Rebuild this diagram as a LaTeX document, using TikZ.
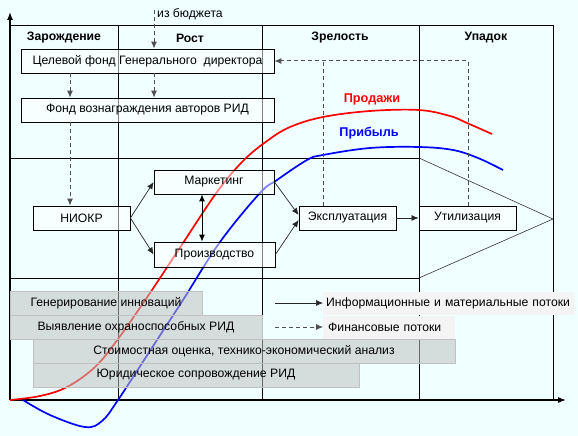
\documentclass[tikz,border=0pt]{standalone}
\usepackage{fontspec}
\setmainfont{Liberation Sans}
\usetikzlibrary{arrows.meta,calc}
\definecolor{bgc}{HTML}{F0FFFF}
\definecolor{barc}{HTML}{C0C0C0}
\definecolor{legc}{HTML}{F4F4F4}
\definecolor{dashc}{HTML}{505050}
\begin{document}
\begin{tikzpicture}[x=1pt,y=-1pt,
  font=\fontsize{12.2}{14}\selectfont,
  frameline/.style={black,line width=0.8pt},
  stagebox/.style={draw=black,line width=0.8pt,fill=white,fill opacity=0.5,text opacity=1,inner sep=0pt,minimum height=24pt},
  barbox/.style={draw=barc,line width=0.8pt,fill=barc,fill opacity=0.55,text opacity=1,inner sep=0pt,minimum height=24pt},
  legbox/.style={fill=legc,inner sep=0pt,minimum height=23pt,anchor=west},
  head/.style={font=\fontsize{12.2}{14}\selectfont\bfseries},
  flow/.style={-{Latex[length=7pt,width=6pt]},line width=0.7pt,black!85},
  money/.style={-{Latex[length=7pt,width=6pt]},line width=1pt,dashc,dash pattern=on 4pt off 3pt},
  curve/.style={line width=1.7pt}
]
\useasboundingbox (0,0) rectangle (578,436);
\fill[bgc] (0,0) rectangle (578,436);
% frame
\draw[frameline] (10,25) -- (553,25) -- (553,400);
\foreach \x in {118,262,419} \draw[frameline] (\x,25) -- (\x,400);
\draw[frameline] (10,158) -- (419,158);
\draw[frameline] (10,278) -- (419,278);
\draw[line width=0.6pt,black!80] (419,158) -- (553,219) -- (419,278);
% axes
\draw[-{Latex[length=8pt,width=6pt]},line width=1.2pt] (10,400) -- (10,12);
\draw[-{Latex[length=8pt,width=6pt]},line width=1.2pt] (10,400) -- (566,400);
% curves
\draw[curve,red] plot[smooth,tension=0.6] coordinates {(10,400) (40,396) (67,387) (95,367) (118,339) (150,293) (183,243) (217,192) (243,161) (267,141) (290,127) (323,117) (370,111) (419,110) (450,116) (467,123) (492,134)};
\draw[curve,blue] plot[smooth,tension=0.6] coordinates {(23,400) (50,415) (85,427) (102,421) (118,400) (157,340) (183,300) (220,242) (260,193) (277,180) (307,160) (323,155) (370,148) (419,147) (453,150) (478,158) (503,170)};
\node[font=\fontsize{12.7}{15}\selectfont\bfseries,text=red] (sales) at (372,99) {Продажи};
\node[font=\fontsize{12.7}{15}\selectfont\bfseries,text=blue] (profit) at (369,133) {Прибыль};
% headers
\node[head] (h1) at (64,38) {Зарождение};
\node[head] (h2) at (190,38) {Рост};
\node[head] (h3) at (340,38) {Зрелость};
\node[head] (h4) at (486,38) {Упадок};
% boxes
\node[stagebox,minimum width=253pt] (fund) at (147.5,61) {Целевой фонд Генерального\ \ директора};
\node[stagebox,minimum width=253pt] (award) at (147.5,110) {Фонд вознаграждения авторов РИД};
\node[stagebox,minimum width=97pt] (niokr) at (81.5,218) {НИОКР};
\node[stagebox,minimum width=120pt] (mark) at (214,182) {Маркетинг};
\node[stagebox,minimum width=121pt,minimum height=25pt] (prod) at (214.5,254.5) {Производство};
\node[stagebox,minimum width=97pt] (expl) at (347.5,218) {Эксплуатация};
\node[stagebox,minimum width=97pt] (util) at (467.5,218) {Утилизация};
% bars
\node[barbox,minimum width=192pt] (b1) at (106,303) {Генерирование инноваций};
\node[barbox,minimum width=252pt] (b2) at (136,327) {Выявление охраноспособных РИД};
\node[barbox,minimum width=422pt] (b3) at (244,351) {Стоимостная оценка, технико-экономический анализ};
\node[barbox,minimum width=326pt] (b4) at (196,375) {Юридическое сопровождение РИД};
% legend
\node[legbox,minimum width=249pt,align=left,text width=245pt,inner xsep=3pt] (l1) at (323,303) {Информационные и материальные потоки};
\node[legbox,minimum width=132pt,text width=122pt,inner xsep=5pt] (l2) at (323,327) {Финансовые потоки};
\coordinate (ls1) at (275,303);
\coordinate (ls2) at (275,327);
\draw[flow] (ls1) -- (l1.west);
\draw[money,line width=0.8pt] (ls2) -- (l2.west);
% budget
\node[anchor=west,inner sep=0pt] (budget) at (157,14) {из бюджета};
\coordinate (bud) at (154,10);
\coordinate (c70) at (70,0);
\coordinate (c154) at (154,0);
\coordinate (c202) at (202,0);
\coordinate (c323) at (323,0);
\coordinate (c468) at (468,0);
\draw[money] (bud) -- (fund.north -| bud);
\draw[money] (fund.south -| c70) -- (award.north -| c70);
\draw[money] (fund.south -| c154) -- (award.north -| c154);
\draw[money] (award.south -| c70) -- (niokr.north -| c70);
\draw[money] (util.north -| c468) |- (fund.east);
\draw[money,-] (expl.north -| c323) -- (c323 |- fund.east);
% flows
\draw[flow] (niokr.east) -- (mark.west);
\draw[flow] (niokr.east) -- (prod.west);
\draw[flow] (mark.east) -- ([yshift=3pt]expl.west);
\draw[flow] (prod.east) -- ([yshift=-2pt]expl.west);
\draw[flow] (expl.east) -- (util.west);
\draw[{Latex[length=7pt,width=6pt]}-{Latex[length=7pt,width=6pt]},line width=1pt,black] (mark.south -| c202) -- (prod.north -| c202);
\end{tikzpicture}
\end{document}
